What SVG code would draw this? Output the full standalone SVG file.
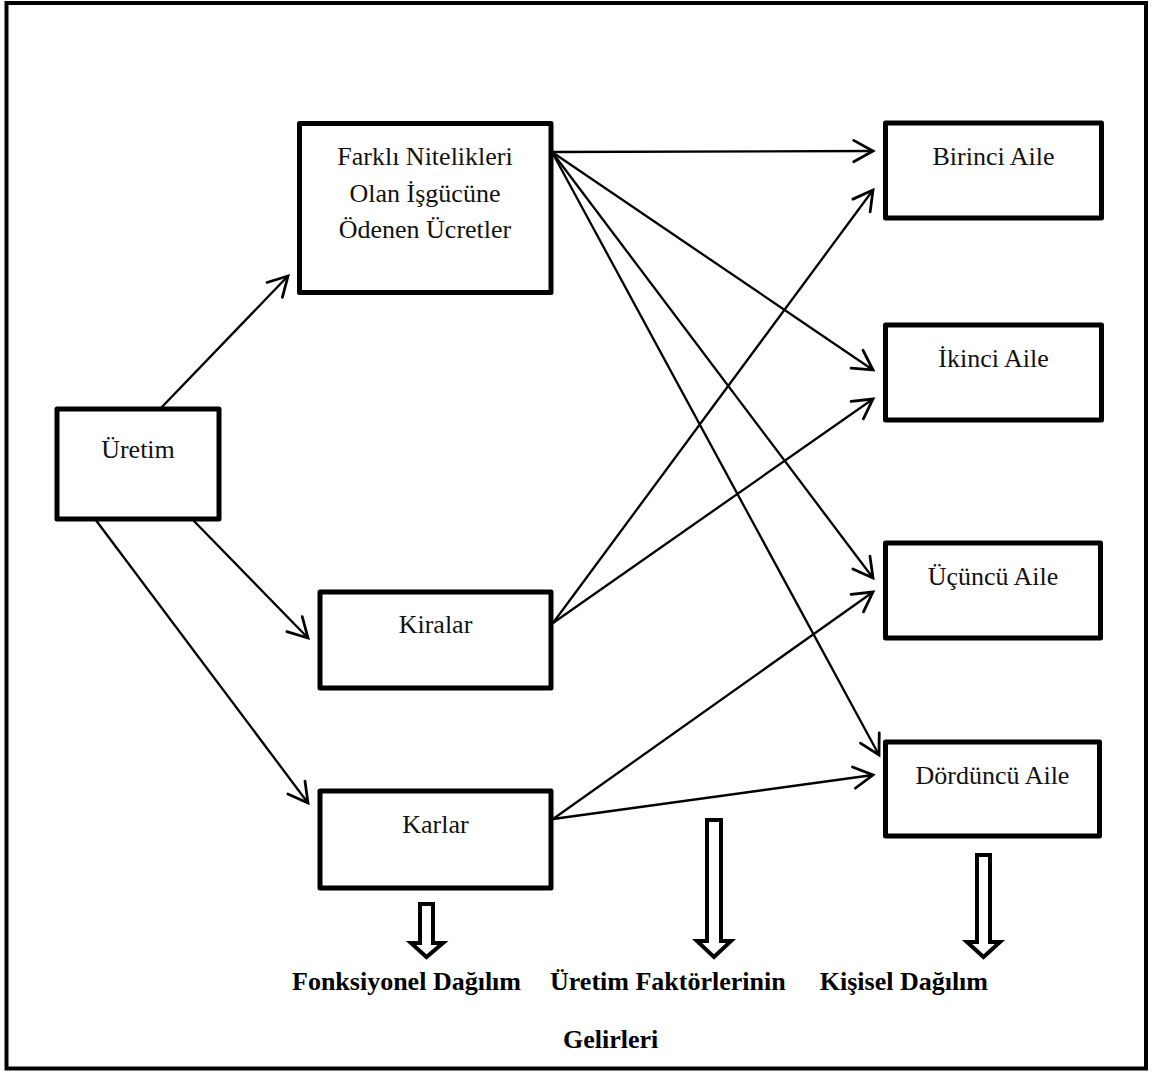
<svg xmlns="http://www.w3.org/2000/svg" width="1152" height="1075" viewBox="0 0 1152 1075">
<style>
.box{fill:#fff;stroke:#000;stroke-width:5;stroke-linejoin:round}
.t{font-family:"Liberation Serif","Times New Roman",serif;font-size:26px;fill:#111;text-anchor:middle}
.b{font-family:"Liberation Serif","Times New Roman",serif;font-size:26px;font-weight:bold;fill:#000}
.c{fill:none;stroke:#000;stroke-width:2.3}
.blk{fill:#fff;stroke:#000;stroke-width:4;stroke-linejoin:miter}
</style>
<defs>
<marker id="ah" markerUnits="userSpaceOnUse" markerWidth="30" markerHeight="30" viewBox="-22 -14 26 28" refX="0" refY="0" orient="auto">
<path d="M-18,-10 L0,0 L-18,10" fill="none" stroke="#000" stroke-width="2.6" stroke-linecap="round" stroke-linejoin="miter"/>
</marker>
</defs>
<rect x="0" y="0" width="1152" height="1075" fill="#fff"/>
<rect x="6.5" y="3" width="1139.5" height="1065.5" fill="none" stroke="#000" stroke-width="4"/>

<g id="connectors">
<line class="c" x1="160" y1="409" x2="288" y2="276" marker-end="url(#ah)"/>
<line class="c" x1="192" y1="519" x2="308" y2="638" marker-end="url(#ah)"/>
<line class="c" x1="95" y1="519" x2="308" y2="803" marker-end="url(#ah)"/>
<line class="c" x1="552" y1="152" x2="873" y2="151" marker-end="url(#ah)"/>
<line class="c" x1="552" y1="152" x2="873" y2="370" marker-end="url(#ah)"/>
<line class="c" x1="552" y1="152" x2="873" y2="578" marker-end="url(#ah)"/>
<line class="c" x1="552" y1="152" x2="879" y2="755" marker-end="url(#ah)"/>
<line class="c" x1="553" y1="623" x2="873" y2="190" marker-end="url(#ah)"/>
<line class="c" x1="553" y1="623" x2="873" y2="399" marker-end="url(#ah)"/>
<line class="c" x1="553" y1="819" x2="873" y2="592" marker-end="url(#ah)"/>
<line class="c" x1="553" y1="819" x2="873" y2="775" marker-end="url(#ah)"/>
</g>

<g id="uretim">
<rect class="box" x="57" y="409" width="162" height="110"/>
<text class="t" x="138" y="458">Üretim</text>
</g>
<g id="farkli">
<rect class="box" x="299.5" y="123.5" width="251.5" height="169"/>
<text class="t" x="425" y="165">Farklı Nitelikleri</text>
<text class="t" x="425" y="202">Olan İşgücüne</text>
<text class="t" x="425" y="238">Ödenen Ücretler</text>
</g>
<g id="kiralar">
<rect class="box" x="320" y="592" width="231" height="96"/>
<text class="t" x="435.5" y="633">Kiralar</text>
</g>
<g id="karlar">
<rect class="box" x="320" y="791" width="231" height="97"/>
<text class="t" x="435.5" y="833">Karlar</text>
</g>
<g id="birinci">
<rect class="box" x="885.5" y="123" width="216" height="95"/>
<text class="t" x="993.5" y="165">Birinci Aile</text>
</g>
<g id="ikinci">
<rect class="box" x="885.5" y="325" width="216" height="95"/>
<text class="t" x="993.5" y="367">İkinci Aile</text>
</g>
<g id="ucuncu">
<rect class="box" x="885.5" y="543" width="215" height="95"/>
<text class="t" x="993" y="585">Üçüncü Aile</text>
</g>
<g id="dorduncu">
<rect class="box" x="885.5" y="742" width="214" height="94"/>
<text class="t" x="992.5" y="784">Dördüncü Aile</text>
</g>

<g id="block-arrows">
<path class="blk" d="M420,904 H433 V943 H443 L426.5,957 L411,943 H420 Z"/>
<path class="blk" d="M707,820 H721 V941 H731 L714,957 L697,941 H707 Z"/>
<path class="blk" d="M977,855 H990 V942 H1000 L983.5,957 L967,942 H977 Z"/>
</g>

<g id="labels">
<text class="b" x="521" y="990" text-anchor="end">Fonksiyonel Dağılım</text>
<text class="b" x="550" y="990">Üretim Faktörlerinin</text>
<text class="b" x="988" y="990" text-anchor="end">Kişisel Dağılım</text>
<text class="b" x="563" y="1048">Gelirleri</text>
</g>
</svg>
